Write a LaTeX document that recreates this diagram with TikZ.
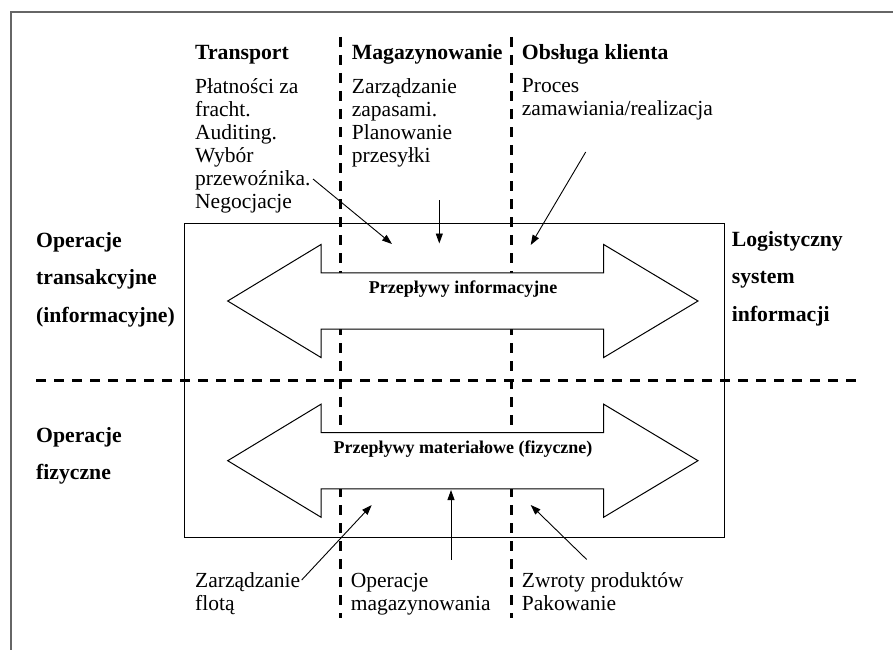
\documentclass[tikz,border=0pt]{standalone}
\usepackage{fontspec}
\setmainfont{Liberation Serif}
\usetikzlibrary{arrows.meta}
\tikzstyle{head} = [font=\bfseries\fontsize{21.7}{26}\selectfont, anchor=base west, inner sep=0pt]
\tikzstyle{side} = [font=\bfseries\fontsize{21.7}{37.5}\selectfont, align=left, anchor=base west, inner sep=0pt]
\tikzstyle{task} = [font=\fontsize{21.5}{23}\selectfont, align=left, anchor=base west, inner sep=0pt]
\tikzstyle{flow} = [font=\bfseries\fontsize{18}{20}\selectfont, anchor=base, inner sep=0pt]
\tikzstyle{band} = [draw, fill=white, line width=1pt]
\tikzstyle{divider} = [draw, line width=3pt, dash pattern=on 10pt off 8pt]
\tikzstyle{line} = [draw, line width=0.9pt, -{Triangle[length=10pt, width=7pt]}]

\begin{document}
\begin{tikzpicture}[x=1pt, y=-1pt]
	\useasboundingbox (0,0) rectangle (893,650);
	\draw[black!60, line width=1.2pt] (893,12) -- (11,12) -- (11,650);
	\node[draw, line width=1pt, anchor=north west, inner sep=0pt, minimum width=540pt, minimum height=314pt] (system) at (184,223) {};
	
	\path[divider] (340.7,37) -- (340.7,618);
	\path[divider] (511.7,37) -- (511.7,618);
	\path[divider] (36,380) -- (862,380);
	
	\path[band] (227.7,301) -- (321,244.5) -- (321,272.8) -- (603.7,272.8) -- (603.7,244.5) -- (698,301) -- (603.7,357.5) -- (603.7,329.2) -- (321,329.2) -- (321,357.5) -- cycle;
	\path[band] (227.7,460.7) -- (321,404.2) -- (321,432.5) -- (603.7,432.5) -- (603.7,404.2) -- (698,460.7) -- (603.7,517.2) -- (603.7,488.9) -- (321,488.9) -- (321,517.2) -- cycle;
	\node[flow] (infoflow) at (463,293.5) {Przepływy informacyjne};
	\node[flow] (goodsflow) at (463,453.5) {Przepływy materiałowe (fizyczne)};
	
	\node[head] (transport) at (195,59.5) {Transport};
	\node[head] (storage) at (351.7,59.5) {Magazynowanie};
	\node[head] (service) at (521.7,59.5) {Obsługa klienta};
	\node[task] (freight) at (195,208) {Płatności za\\fracht.\\Auditing.\\Wybór\\przewoźnika.\\Negocjacje};
	\node[task] (stock) at (351.7,162) {Zarządzanie\\zapasami.\\Planowanie\\przesyłki};
	\node[task] (orders) at (521.7,116) {Proces\\zamawiania/realizacja};
	
	\node[side] (transact) at (36,322) {Operacje\\transakcyjne\\(informacyjne)};
	\node[side] (physical) at (36,479.5) {Operacje\\fizyczne};
	\node[side] (lis) at (731.7,321) {Logistyczny\\system\\informacji};
	
	\node[task] (fleet) at (195,610) {Zarządzanie\\flotą};
	\node[task] (handling) at (350.7,610) {Operacje\\magazynowania};
	\node[task] (returns) at (521.7,610) {Zwroty produktów\\Pakowanie};
	
	\coordinate (freightend) at (313,179);
	\coordinate (stockend) at (439.3,200);
	\coordinate (ordersend) at (585.7,152);
	\coordinate (fleetend) at (301.7,580);
	\coordinate (handlingend) at (451,559.5);
	\coordinate (returnsend) at (586.7,559.5);
	\coordinate (infoA) at (392,244);
	\coordinate (infoB) at (439.3,243.5);
	\coordinate (infoC) at (530.7,245);
	\coordinate (goodsA) at (371.7,505);
	\coordinate (goodsB) at (451,490);
	\coordinate (goodsC) at (530.7,505);
	
	\path[line] (freightend) -- (infoA);
	\path[line] (stockend) -- (infoB);
	\path[line] (ordersend) -- (infoC);
	\path[line] (fleetend) -- (goodsA);
	\path[line] (handlingend) -- (goodsB);
	\path[line] (returnsend) -- (goodsC);
\end{tikzpicture}
\end{document}
